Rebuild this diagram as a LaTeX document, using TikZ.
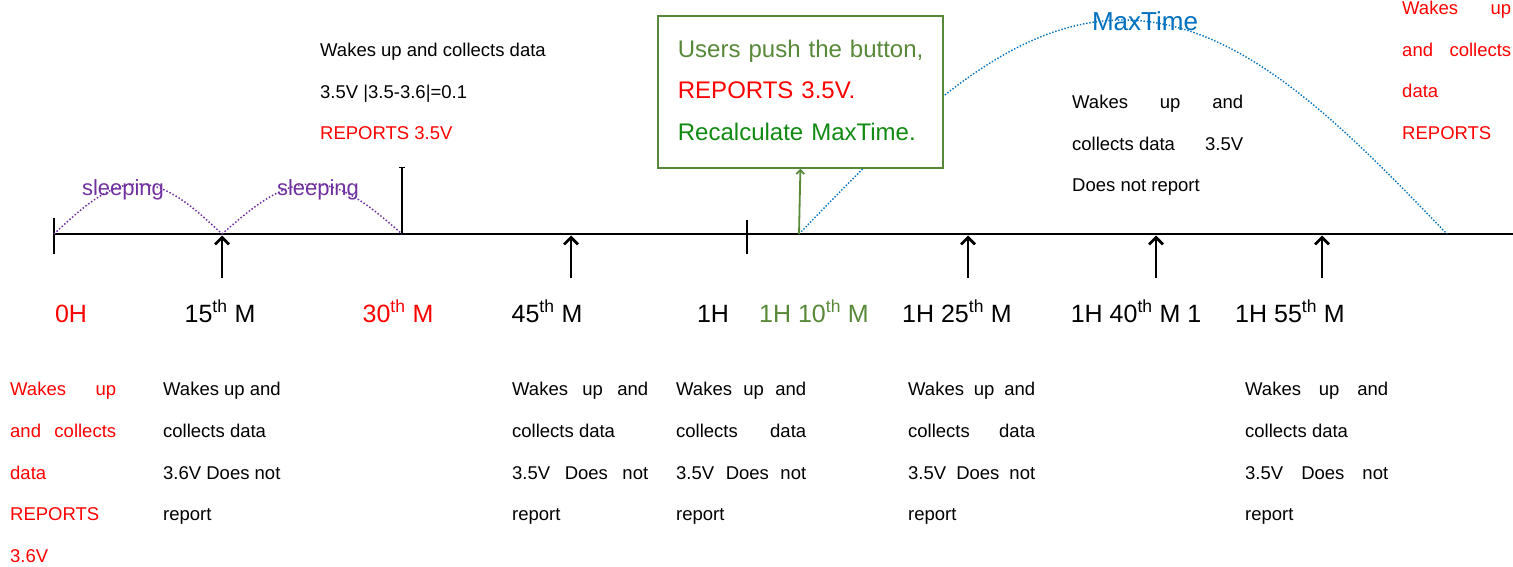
\documentclass[tikz,border=0pt]{standalone}
\usepackage{fontspec}
\setmainfont{Liberation Sans}
\usetikzlibrary{arrows.meta}
\definecolor{tred}{RGB}{255,0,0}
\definecolor{olivegr}{RGB}{88,137,56}
\definecolor{dgreen}{RGB}{16,138,16}
\definecolor{purp}{RGB}{112,48,160}
\definecolor{mblue}{RGB}{0,112,192}
\newcommand{\jl}[2]{\makebox[#1][s]{#2}}
\newcommand{\fs}{\rule{0pt}{14pt}}
\begin{document}
\begin{tikzpicture}[x=1pt,y=-1pt,
  txt/.style={font=\fontsize{18.5}{41.6}\selectfont, inner sep=0pt, anchor=north west, align=left},
  big/.style={font=\fontsize{25}{30}\selectfont, inner sep=0pt, anchor=base},
  axisline/.style={line width=1.3pt},
  uparrow/.style={line width=2.8pt, -{Straight Barb[length=7pt,width=14pt]}},
  sleeparc/.style={purp, line width=1.5pt, dash pattern=on 1.5pt off 2pt},
  maxarc/.style={mblue, line width=1.4pt, dash pattern=on 1.4pt off 1.8pt},
  sleeplbl/.style={purp, font=\fontsize{22}{26}\selectfont, inner sep=0pt, anchor=base}]
\useasboundingbox (0,0) rectangle (1513,567);

% timeline
\coordinate (t0) at (54,234);
\coordinate (tend) at (1513,234);
\draw[axisline] (t0) -- (tend);
\coordinate (k0a) at (54,218); \coordinate (k0b) at (54,254);
\draw[axisline] (k0a) -- (k0b);
\coordinate (k1a) at (747,220); \coordinate (k1b) at (747,254);
\draw[axisline] (k1a) -- (k1b);

% 30th M marker
\coordinate (m30b) at (402,233); \coordinate (m30t) at (402,167);
\coordinate (m30l) at (399,167); \coordinate (m30r) at (405,167);
\draw[line width=2.6pt] (m30b) -- (m30t);
\draw[line width=0.8pt] (m30l) -- (m30r);

% up arrows
\foreach \n/\x in {a15/222, a45/571, a85/968, a100/1156, a115/1322}{
  \coordinate (\n b) at (\x,278);
  \coordinate (\n t) at (\x,235.5);
  \draw[uparrow] (\n b) -- (\n t);
}

% sleeping arcs
\draw[sleeparc] plot[domain=0:180,samples=40] ({54+0.93333*\x},{234-50*sin(\x)});
\draw[sleeparc] plot[domain=0:180,samples=40] ({222+\x},{234-50*sin(\x)});
\node[sleeplbl] (sl1) at (123,196) {sleeping};
\node[sleeplbl] (sl2) at (318,196) {sleeping};

% MaxTime arc
\coordinate (mx0) at (799,234);
\draw[maxarc] plot[domain=0:180,samples=80] ({799+3.6*\x},{234-214*sin(\x)});
\node[mblue, font=\fontsize{26}{30}\selectfont, inner sep=0pt, anchor=base] (maxt) at (1145,31) {MaxTime};

% green box
\node[draw=olivegr, line width=1.8pt, fill=white, anchor=north west, inner xsep=20pt, inner ysep=0pt,
      text width=245pt, minimum height=152pt, align=left, font=\fontsize{24}{41.5}\selectfont] (box) at (657,15)
  {\mbox{\textcolor{olivegr}{Users push the button,}}\\ \mbox{\textcolor{tred}{REPORTS 3.5V.}}\\ \mbox{\textcolor{dgreen}{Recalculate MaxTime.}\rule[-4pt]{0pt}{4pt}}};
\draw[olivegr, line width=1.8pt, -{Straight Barb[length=4pt,width=8pt]}] (mx0) -- (box.south);

% timeline labels
\node[big, tred] (l0) at (71,322) {0H};
\node[big] (l15) at (220,322) {15\textsuperscript{th} M};
\node[big, tred] (l30) at (398,322) {30\textsuperscript{th} M};
\node[big] (l45) at (547,322) {45\textsuperscript{th} M};
\node[big] (l60) at (713,322) {1H};
\node[big, olivegr] (l70) at (814,322) {1H 10\textsuperscript{th} M};
\node[big] (l85) at (957,322) {1H 25\textsuperscript{th} M};
\node[big] (l100) at (1136,322) {1H 40\textsuperscript{th} M 1};
\node[big] (l115) at (1290,322) {1H 55\textsuperscript{th} M};

% upper texts
\node[txt] (u30) at (320,42.6) {\fs Wakes up and collects data\\ 3.5V |3.5-3.6|=0.1\\ \textcolor{tred}{REPORTS 3.5V}};
\node[txt] (u100) at (1072,94.6) {\fs\jl{171pt}{Wakes up and}\\ \makebox[171pt]{collects data\hfill 3.5V}\\ Does not report};
\node[txt, tred] (u120) at (1402,0.6) {\fs\jl{109pt}{Wakes up}\\ \jl{109pt}{and collects}\\ data\\ REPORTS};

% lower texts
\node[txt, tred] (b0) at (10,381.6) {\fs\jl{106pt}{Wakes up}\\ \jl{106pt}{and collects}\\ data\\ REPORTS\\ 3.6V};
\node[txt] (b15) at (163,381.6) {\fs Wakes up and\\ collects data\\ 3.6V Does not\\ report};
\node[txt] (b45) at (512,381.6) {\fs\jl{136pt}{Wakes up and}\\ collects data\\ \jl{136pt}{3.5V Does not}\\ report};
\node[txt] (b60) at (676,381.6) {\fs\jl{130pt}{Wakes up and}\\ \jl{130pt}{collects data}\\ \jl{130pt}{3.5V Does not}\\ report};
\node[txt] (b85) at (908,381.6) {\fs\jl{127pt}{Wakes up and}\\ \jl{127pt}{collects data}\\ \jl{127pt}{3.5V Does not}\\ report};
\node[txt] (b115) at (1245,381.6) {\fs\jl{143pt}{Wakes up and}\\ collects data\\ \jl{143pt}{3.5V Does not}\\ report};
\end{tikzpicture}
\end{document}
